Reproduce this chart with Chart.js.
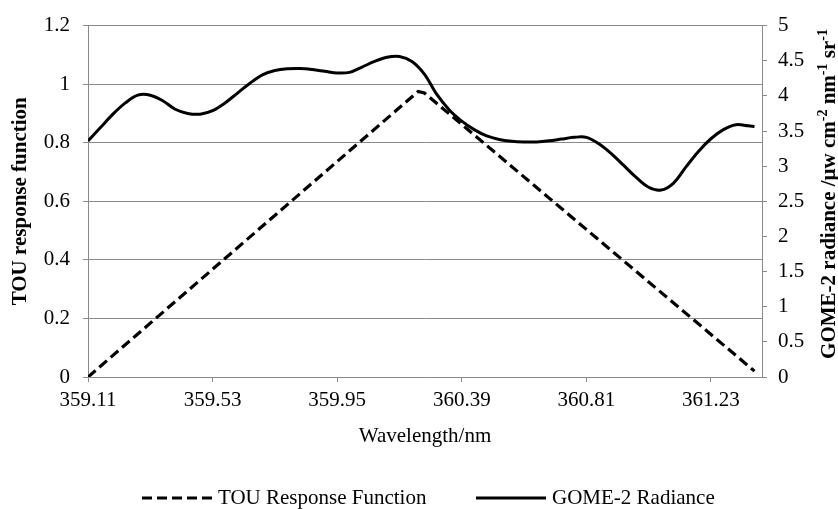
<!DOCTYPE html>
<html>
<head>
<meta charset="utf-8">
<title>TOU response function and GOME-2 radiance</title>
<script src="https://cdn.jsdelivr.net/npm/chart.js@4.4.0/dist/chart.umd.min.js"></script>
<style>
  html, body { margin: 0; padding: 0; background: #fff; }
  #wrap { width: 838px; height: 509px; position: relative; }
</style>
</head>
<body>
<div id="wrap"><canvas id="chartArea"></canvas></div>
<script>
// x axis runs over spectral channel index; ticks every 20 channels
const tickChannels = [0, 20, 40, 60, 80, 100];
const tickLabels = ['359.11', '359.53', '359.95', '360.39', '360.81', '361.23'];

// TOU triangular slit function (left axis)
const touChannels = [0, 53, 54, 107];
const touResponse = [0, 0.975, 0.97, 0.02];

// GOME-2 radiance, µW cm-2 nm-1 sr-1 (right axis)
const gomeChannels = [
    0, 2, 4, 6, 8, 10, 12, 14, 16, 18, 20, 22, 24, 26, 28, 30, 32, 34, 36, 38,
    40, 42, 44, 46, 48, 50, 52, 54, 56, 58, 60, 62, 64, 66, 68, 70, 72, 74, 76, 78,
    80, 82, 84, 86, 88, 90, 92, 94, 96, 98, 100, 102, 104, 106, 107
];
const gomeRadiance = [
    3.36, 3.55, 3.74, 3.90, 4.01, 4.01, 3.93, 3.81, 3.75, 3.74,
    3.79, 3.90, 4.04, 4.18, 4.30, 4.36, 4.385, 4.39, 4.375, 4.35,
    4.325, 4.335, 4.41, 4.49, 4.55, 4.56, 4.49, 4.31, 4.02, 3.80,
    3.64, 3.52, 3.43, 3.38, 3.355, 3.345, 3.345, 3.36, 3.385, 3.41,
    3.41, 3.32, 3.18, 3.01, 2.84, 2.70, 2.66, 2.76, 2.99, 3.21,
    3.39, 3.52, 3.59, 3.575, 3.565
];

const serif = "'Liberation Serif', 'Times New Roman', serif";
const fontSize = 21;
const axisGray = '#8a8a8a';

Chart.defaults.font.family = serif;
Chart.defaults.font.size = fontSize;
Chart.defaults.color = '#000';

// plain number labels: 1 rather than 1.0, 5 rather than 5.0
const plainNumber = v => String(Math.round(v * 100) / 100);

// axis titles (right one has superscripts) and the legend row
const decorations = {
    id: 'decorations',
    afterDraw(chart) {
        const { ctx, chartArea: area } = chart;
        const midY = (area.top + area.bottom) / 2;

        ctx.save();
        ctx.fillStyle = '#000';
        ctx.font = `bold ${fontSize}px ${serif}`;
        ctx.textAlign = 'center';
        ctx.textBaseline = 'middle';
        ctx.translate(21, midY);
        ctx.rotate(-Math.PI / 2);
        ctx.fillText('TOU response function', 0, 0);
        ctx.restore();

        ctx.save();
        ctx.fillStyle = '#000';
        ctx.font = `${fontSize}px ${serif}`;
        ctx.textAlign = 'center';
        ctx.textBaseline = 'middle';
        ctx.fillText('Wavelength/nm', (area.left + area.right) / 2, 436);
        ctx.restore();

        const parts = [
            ['GOME-2 radiance /\u03bcw cm', false], ['-2', true],
            [' nm', false], ['-1', true],
            [' sr', false], ['-1', true]
        ];
        const mainFont = `bold ${fontSize}px ${serif}`;
        const supFont = `bold 14px ${serif}`;
        ctx.save();
        ctx.fillStyle = '#000';
        ctx.textAlign = 'left';
        ctx.textBaseline = 'alphabetic';
        let total = 0;
        parts.forEach(([t, sup]) => {
            ctx.font = sup ? supFont : mainFont;
            total += ctx.measureText(t).width;
        });
        ctx.translate(835, 194);
        ctx.rotate(-Math.PI / 2);
        let x = -total / 2;
        parts.forEach(([t, sup]) => {
            ctx.font = sup ? supFont : mainFont;
            ctx.fillText(t, x, sup ? -8 : 0);
            x += ctx.measureText(t).width;
        });
        ctx.restore();

        // legend
        const legendY = 498;
        const entries = [
            { ds: chart.data.datasets[0], x: 142 },
            { ds: chart.data.datasets[1], x: 476 }
        ];
        ctx.save();
        entries.forEach(({ ds, x }) => {
            ctx.strokeStyle = ds.borderColor;
            ctx.lineWidth = ds.borderWidth;
            ctx.setLineDash(ds.borderDash || []);
            ctx.beginPath();
            ctx.moveTo(x, legendY);
            ctx.lineTo(x + 70, legendY);
            ctx.stroke();
            ctx.fillStyle = '#000';
            ctx.font = `${fontSize}px ${serif}`;
            ctx.textAlign = 'left';
            ctx.textBaseline = 'middle';
            ctx.fillText(ds.label, x + 76, legendY);
        });
        ctx.restore();
    }
};

const ctx = document.getElementById('chartArea').getContext('2d');

new Chart(ctx, {
    type: 'line',
    data: {
        datasets: [
            {
                label: 'TOU Response Function',
                data: touChannels.map((c, i) => ({ x: c, y: touResponse[i] })),
                yAxisID: 'y',
                borderColor: '#000',
                borderWidth: 3.2,
                borderDash: [10, 5],
                pointRadius: 0,
                tension: 0,
                fill: false
            },
            {
                label: 'GOME-2 Radiance',
                data: gomeChannels.map((c, i) => ({ x: c, y: gomeRadiance[i] })),
                yAxisID: 'y1',
                borderColor: '#000',
                borderWidth: 3,
                pointRadius: 0,
                tension: 0.35,
                fill: false
            }
        ]
    },
    options: {
        responsive: true,
        maintainAspectRatio: false,
        animation: false,
        layout: { padding: { top: 19, bottom: 72, left: 0, right: 0 } },
        plugins: {
            legend: { display: false },
            tooltip: { enabled: false }
        },
        scales: {
            x: {
                type: 'linear',
                min: 0,
                max: 108.2,
                afterFit: scale => { scale.height = 60; },
                afterBuildTicks: scale => {
                    scale.ticks = tickChannels.map(v => ({ value: v }));
                },
                ticks: {
                    callback: v => tickLabels[tickChannels.indexOf(v)],
                    autoSkip: false,
                    maxRotation: 0,
                    padding: 6
                },
                grid: { drawOnChartArea: false, color: axisGray, tickLength: 5 },
                border: { color: axisGray }
            },
            y: {
                position: 'left',
                min: 0,
                max: 1.2,
                afterFit: scale => { scale.width = 88; },
                ticks: { stepSize: 0.2, padding: 13, callback: plainNumber },
                grid: { color: axisGray, tickLength: 5 },
                border: { color: axisGray }
            },
            y1: {
                position: 'right',
                min: 0,
                max: 5,
                afterFit: scale => { scale.width = 76; },
                ticks: { stepSize: 0.5, padding: 11, callback: plainNumber },
                grid: { drawOnChartArea: false, color: axisGray, tickLength: 5 },
                border: { color: axisGray }
            }
        }
    },
    plugins: [decorations]
});
</script>
</body>
</html>
